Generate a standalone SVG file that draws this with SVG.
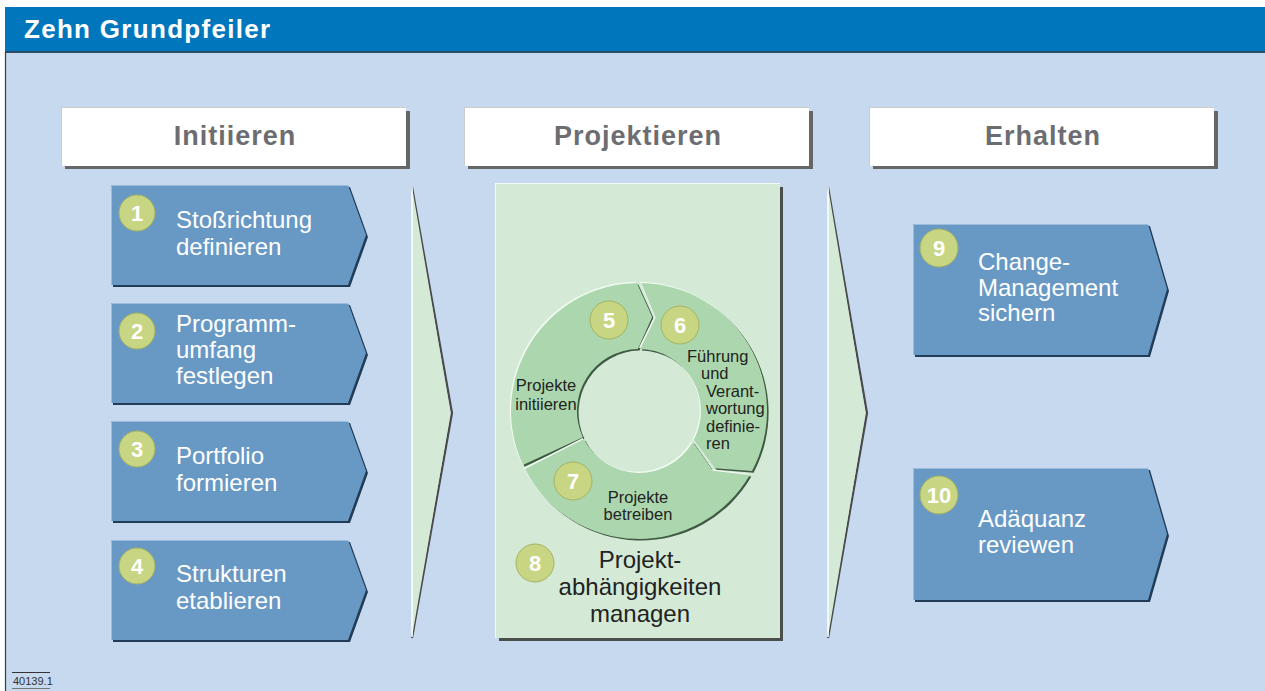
<svg xmlns="http://www.w3.org/2000/svg" width="1265" height="691" viewBox="0 0 1265 691">
  <defs>
    <style>
      .title { font-family: "Liberation Sans", Arial, sans-serif; font-weight: bold; font-size: 26px; fill: #ffffff; letter-spacing: 1.3px; }
      .phase { font-family: "Liberation Sans", Arial, sans-serif; font-weight: bold; font-size: 27px; fill: #6b6d71; letter-spacing: 1px; text-anchor: middle; }
      .step { font-family: "Liberation Sans", Arial, sans-serif; font-size: 24px; fill: #ffffff; }
      .num { font-family: "Liberation Sans", Arial, sans-serif; font-weight: bold; font-size: 22px; fill: #ffffff; text-anchor: middle; }
      .ring { font-family: "Liberation Sans", Arial, sans-serif; font-size: 16.5px; fill: #222222; }
      .big { font-family: "Liberation Sans", Arial, sans-serif; font-size: 24px; fill: #222222; text-anchor: middle; }
      .code { font-family: "Liberation Sans", Arial, sans-serif; font-size: 11px; fill: #333333; }
      .badge { fill: #c8d583; stroke: #a4b262; stroke-width: 1; }
      .box { fill: #6899c5; }
      .boxShadow { fill: #213c57; }
      .boxEdge { fill: none; stroke: #9dbbdb; stroke-width: 1; }
      .head { fill: #ffffff; }
      .headShadow { fill: #666666; }
      .headEdge { fill: #cccccc; }
      .seg { fill: #acd7ae; }
      .segShadow { fill: #3f5a43; }
      .segLight { fill: #f2faf2; }
    </style>
  </defs>

  <!-- page background -->
  <rect x="0" y="0" width="1265" height="691" fill="#ffffff"/>
  <rect x="5" y="7" width="1260" height="684" fill="#c6d9ef"/>
  <line x1="5.5" y1="52" x2="5.5" y2="691" stroke="#3a3a3a" stroke-width="1.2"/>

  <!-- title bar -->
  <g id="title">
    <rect x="5" y="7" width="1260" height="45" fill="#0077bd"/>
    <rect x="5" y="51" width="1260" height="2" fill="#2b4d66"/>
    <text class="title" x="24" y="38">Zehn Grundpfeiler</text>
  </g>

  <!-- phase headers -->
  <g id="phase-initiieren">
    <rect class="headShadow" x="65" y="111" width="345" height="58"/>
    <rect class="headEdge" x="61" y="107" width="345" height="58"/>
    <rect class="head" x="62" y="108" width="344" height="58"/>
    <text class="phase" x="235" y="145">Initiieren</text>
  </g>
  <g id="phase-projektieren">
    <rect class="headShadow" x="468" y="111" width="345" height="58"/>
    <rect class="headEdge" x="464" y="107" width="345" height="58"/>
    <rect class="head" x="465" y="108" width="344" height="58"/>
    <text class="phase" x="638" y="145">Projektieren</text>
  </g>
  <g id="phase-erhalten">
    <rect class="headShadow" x="873" y="111" width="345" height="58"/>
    <rect class="headEdge" x="869" y="107" width="345" height="58"/>
    <rect class="head" x="870" y="108" width="344" height="58"/>
    <text class="phase" x="1043" y="145">Erhalten</text>
  </g>

  <!-- steps 1-4 -->
  <g id="step-1">
    <polygon class="boxShadow" points="113,187 350,187 368,237 350,287 113,287"/>
    <polygon class="box" points="111,185 348,185 366,235 348,285 111,285"/>
    <polyline class="boxEdge" points="111.5,285 111.5,185.5 348,185.5"/>
    <circle class="badge" cx="137" cy="213" r="18"/>
    <text class="num" x="137" y="221">1</text>
    <text class="step" x="176" y="228">Stoßrichtung</text>
    <text class="step" x="176" y="255">definieren</text>
  </g>
  <g id="step-2">
    <polygon class="boxShadow" points="113,305 350,305 368,355 350,405 113,405"/>
    <polygon class="box" points="111,303 348,303 366,353 348,403 111,403"/>
    <polyline class="boxEdge" points="111.5,403 111.5,303.5 348,303.5"/>
    <circle class="badge" cx="137" cy="331" r="18"/>
    <text class="num" x="137" y="339">2</text>
    <text class="step" x="176" y="332">Programm-</text>
    <text class="step" x="176" y="358">umfang</text>
    <text class="step" x="176" y="384">festlegen</text>
  </g>
  <g id="step-3">
    <polygon class="boxShadow" points="113,423 350,423 368,473 350,523 113,523"/>
    <polygon class="box" points="111,421 348,421 366,471 348,521 111,521"/>
    <polyline class="boxEdge" points="111.5,521 111.5,421.5 348,421.5"/>
    <circle class="badge" cx="137" cy="449" r="18"/>
    <text class="num" x="137" y="457">3</text>
    <text class="step" x="176" y="464">Portfolio</text>
    <text class="step" x="176" y="491">formieren</text>
  </g>
  <g id="step-4">
    <polygon class="boxShadow" points="113,542 350,542 368,592 350,642 113,642"/>
    <polygon class="box" points="111,540 348,540 366,590 348,640 111,640"/>
    <polyline class="boxEdge" points="111.5,640 111.5,540.5 348,540.5"/>
    <circle class="badge" cx="137" cy="566" r="18"/>
    <text class="num" x="137" y="574">4</text>
    <text class="step" x="176" y="582">Strukturen</text>
    <text class="step" x="176" y="609">etablieren</text>
  </g>

  <!-- large flow chevrons between the phases -->
  <g id="connectors">
    <g id="chevron-left">
      <polyline points="412,187 452,413 412,638" fill="none" stroke="#4a4a4a" stroke-width="2.2"/>
      <polygon points="412,187 450.5,413 412,637" fill="#d4ead6"/>
      <line x1="412" y1="187" x2="412" y2="637" stroke="#ffffff" stroke-width="1.5"/>
    </g>
    <g id="chevron-right">
      <polyline points="828,187 867,413 828,638" fill="none" stroke="#4a4a4a" stroke-width="2.2"/>
      <polygon points="828,187 865.5,413 828,637" fill="#d4ead6"/>
      <line x1="828" y1="187" x2="828" y2="637" stroke="#ffffff" stroke-width="1.5"/>
    </g>
  </g>

  <!-- projekt panel with cycle -->
  <g id="panel-projektieren">
    <rect x="499" y="187" width="284" height="454" fill="#4a4f4b"/>
    <rect x="495" y="183" width="285" height="455" fill="#f3faf3"/>
    <rect x="496" y="184" width="284" height="454" fill="#d4ead6"/>
  </g>

  <g id="step-5">
    <path class="segShadow" transform="translate(1.6,1.6)" d="M582.8,437.2 L523.0,465.1 A128,128 0 0 1 636.8,283.0 L652.2,316.9 L637.9,349.0 A62,62 0 0 0 582.8,437.2 Z"/>
    <path class="segLight" transform="translate(-1.2,-1.2)" d="M582.8,437.2 L523.0,465.1 A128,128 0 0 1 636.8,283.0 L652.2,316.9 L637.9,349.0 A62,62 0 0 0 582.8,437.2 Z"/>
    <path class="seg" d="M582.8,437.2 L523.0,465.1 A128,128 0 0 1 636.8,283.0 L652.2,316.9 L637.9,349.0 A62,62 0 0 0 582.8,437.2 Z"/>
    <circle class="badge" cx="609" cy="320" r="19"/>
    <text class="num" x="609" y="328">5</text>
    <text class="ring" x="546" y="391" text-anchor="middle">Projekte</text>
    <text class="ring" x="546" y="410" text-anchor="middle">initiieren</text>
  </g>

  <g id="step-6">
    <path class="segShadow" transform="translate(1.6,1.6)" d="M641.2,283.0 A128,128 0 0 1 752.0,471.1 L714.9,468.2 L693.7,440.1 A62,62 0 0 0 640.1,349.0 L655.5,317.4 Z"/>
    <path class="segLight" transform="translate(-1.2,-1.2)" d="M641.2,283.0 A128,128 0 0 1 752.0,471.1 L714.9,468.2 L693.7,440.1 A62,62 0 0 0 640.1,349.0 L655.5,317.4 Z"/>
    <path class="seg" d="M641.2,283.0 A128,128 0 0 1 752.0,471.1 L714.9,468.2 L693.7,440.1 A62,62 0 0 0 640.1,349.0 L655.5,317.4 Z"/>
    <circle class="badge" cx="680" cy="325" r="19"/>
    <text class="num" x="680" y="333">6</text>
    <text class="ring" x="687" y="362">Führung</text>
    <text class="ring" x="701" y="379">und</text>
    <text class="ring" x="706" y="397">Verant-</text>
    <text class="ring" x="706" y="414">wortung</text>
    <text class="ring" x="706" y="432">definie-</text>
    <text class="ring" x="706" y="449">ren</text>
  </g>

  <g id="step-7">
    <path class="segShadow" transform="translate(1.6,1.6)" d="M749.8,475.0 A128,128 0 0 1 525.0,469.1 L583.8,439.1 A62,62 0 0 0 692.7,442.0 L712.8,470.8 Z"/>
    <path class="segLight" transform="translate(-1.2,-1.2)" d="M749.8,475.0 A128,128 0 0 1 525.0,469.1 L583.8,439.1 A62,62 0 0 0 692.7,442.0 L712.8,470.8 Z"/>
    <path class="seg" d="M749.8,475.0 A128,128 0 0 1 525.0,469.1 L583.8,439.1 A62,62 0 0 0 692.7,442.0 L712.8,470.8 Z"/>
    <circle class="badge" cx="573" cy="481" r="19"/>
    <text class="num" x="573" y="489">7</text>
    <text class="ring" x="638" y="503" text-anchor="middle">Projekte</text>
    <text class="ring" x="638" y="520" text-anchor="middle">betreiben</text>
  </g>

  <g id="step-8">
    <circle class="badge" cx="535" cy="563" r="19"/>
    <text class="num" x="535" y="571">8</text>
    <text class="big" x="640" y="568">Projekt-</text>
    <text class="big" x="640" y="595">abhängigkeiten</text>
    <text class="big" x="640" y="622">managen</text>
  </g>

  <!-- steps 9-10 -->
  <g id="step-9">
    <polygon class="boxShadow" points="915,226 1150,226 1169,291 1150,357 915,357"/>
    <polygon class="box" points="913,224 1148,224 1167,289 1148,355 913,355"/>
    <polyline class="boxEdge" points="913.5,355 913.5,224.5 1148,224.5"/>
    <circle class="badge" cx="939" cy="248" r="19"/>
    <text class="num" x="939" y="256">9</text>
    <text class="step" x="978" y="270">Change-</text>
    <text class="step" x="978" y="296">Management</text>
    <text class="step" x="978" y="321">sichern</text>
  </g>
  <g id="step-10">
    <polygon class="boxShadow" points="915,470 1150,470 1169,536 1150,602 915,602"/>
    <polygon class="box" points="913,468 1148,468 1167,534 1148,600 913,600"/>
    <polyline class="boxEdge" points="913.5,600 913.5,468.5 1148,468.5"/>
    <circle class="badge" cx="939" cy="495" r="19"/>
    <text class="num" x="939" y="503">10</text>
    <text class="step" x="978" y="527">Adäquanz</text>
    <text class="step" x="978" y="553">reviewen</text>
  </g>

  <!-- figure code -->
  <g id="figure-code">
    <line x1="12" y1="672.5" x2="50" y2="672.5" stroke="#333333" stroke-width="1"/>
    <text class="code" x="13" y="685">40139.1</text>
    <line x1="12" y1="688.5" x2="50" y2="688.5" stroke="#777777" stroke-width="1"/>
  </g>
</svg>
